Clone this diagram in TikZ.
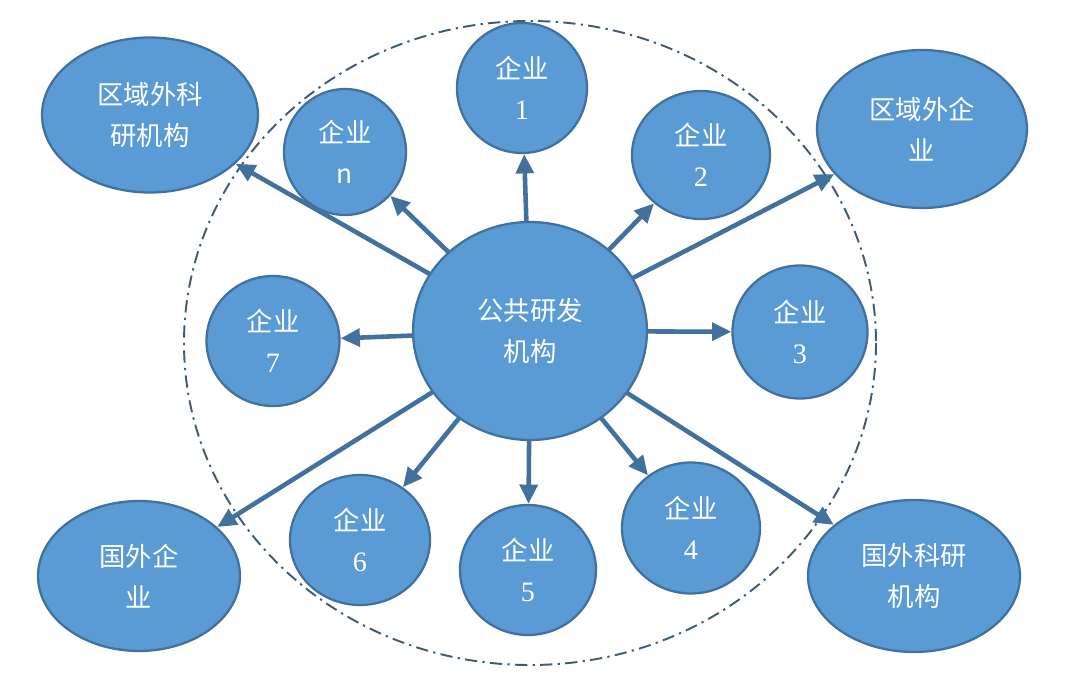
\documentclass[tikz,border=0pt]{standalone}
\usepackage{fontspec}
\setmainfont{Liberation Serif}
\newfontfamily\cjk{Noto Sans CJK SC}
\usetikzlibrary{shapes.geometric,arrows.meta}
\definecolor{nodefill}{HTML}{5B9BD5}
\definecolor{nodeline}{HTML}{41719C}
\definecolor{arrowc}{HTML}{41719C}
\definecolor{ringc}{HTML}{3E5B7A}
\begin{document}
\begin{tikzpicture}[x=0.02cm,y=-0.02cm,
  bub/.style={ellipse, draw=nodeline, fill=nodefill, line width=1.3pt, inner sep=0pt,
    text=white, align=center, font=\fontsize{15pt}{23pt}\selectfont\cjk},
  con/.style={draw=arrowc, line width=2.6pt, -{Triangle[length=11pt,width=10pt]}, shorten <=-1pt}]
\useasboundingbox (0,0) rectangle (1080,696);
\draw[ringc, line width=1.1pt, dash pattern=on 7pt off 3pt on 1.3pt off 3pt] (530,343) ellipse [x radius=346, y radius=322];
\node[bub, minimum width=4.68cm, minimum height=4.36cm] (c) at (530,331) {公共研发\\机构};
\node[bub, minimum width=2.6cm, minimum height=2.6cm] (e1) at (522,88) {企业\\{\rmfamily\fontsize{16pt}{23pt}\selectfont 1}};
\node[bub, minimum width=2.44cm, minimum height=2.52cm] (en) at (345,152) {企业\\n};
\node[bub, minimum width=2.76cm, minimum height=2.56cm] (e2) at (701,155) {企业\\{\rmfamily\fontsize{16pt}{23pt}\selectfont 2}};
\node[bub, minimum width=4.32cm, minimum height=3.1cm] (kr) at (150,115) {区域外科\\研机构};
\node[bub, minimum width=4.2cm, minimum height=3.16cm] (qe) at (922,129) {区域外企\\业};
\node[bub, minimum width=2.66cm, minimum height=2.6cm] (e7) at (273,341) {企业\\{\rmfamily\fontsize{16pt}{23pt}\selectfont 7}};
\node[bub, minimum width=2.7cm, minimum height=2.66cm] (e3) at (800,332) {企业\\{\rmfamily\fontsize{16pt}{23pt}\selectfont 3}};
\node[bub, minimum width=4.04cm, minimum height=3.0cm] (gq) at (139,576) {国外企\\业};
\node[bub, minimum width=2.8cm, minimum height=2.6cm] (e6) at (360,540) {企业\\{\rmfamily\fontsize{16pt}{23pt}\selectfont 6}};
\node[bub, minimum width=2.72cm, minimum height=2.6cm] (e5) at (528,570) {企业\\{\rmfamily\fontsize{16pt}{23pt}\selectfont 5}};
\node[bub, minimum width=2.76cm, minimum height=2.62cm] (e4) at (691,528) {企业\\{\rmfamily\fontsize{16pt}{23pt}\selectfont 4}};
\node[bub, minimum width=4.24cm, minimum height=3.04cm] (gk) at (914,576) {国外科研\\机构};
\foreach \t in {e1,en,e2,kr,qe,e7,e3,gq,e6,e5,e4,gk}
  \draw[con] (c) -- (\t);
\end{tikzpicture}
\end{document}
